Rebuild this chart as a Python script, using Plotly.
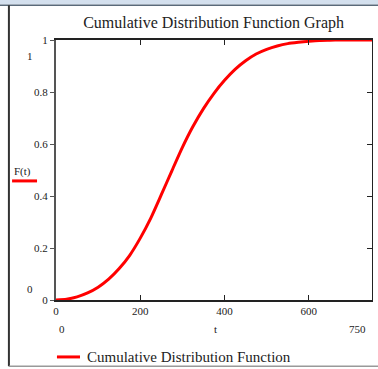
import plotly.graph_objects as go

t_vals = [0, 25, 50, 75, 100, 125, 150, 175, 200, 225, 250, 275, 300, 325, 350,
          375, 400, 425, 450, 475, 500, 525, 550, 575, 600, 625, 650, 675, 700, 725, 750]
F_vals = [0.0, 0.003, 0.012, 0.027, 0.049, 0.080, 0.121, 0.172, 0.238, 0.315, 0.405, 0.497,
          0.587, 0.667, 0.736, 0.795, 0.845, 0.887, 0.92, 0.946, 0.964, 0.977, 0.986,
          0.991, 0.995, 0.998, 0.999, 1.0, 1.0, 1.0, 1.0]

x_ticks = [0, 200, 400, 600]
y_ticks = [0, 0.2, 0.4, 0.6, 0.8, 1]
y_tick_text = ["0", "0.2", "0.4", "0.6", "0.8", "1"]

title_text = "Cumulative Distribution Function Graph"
series_name = "Cumulative Distribution Function"
y_label = "F(t)"
x_label = "t"
x_min_label, x_max_label = "0", "750"
y_min_label, y_max_label = "0", "1"

SERIF = "Liberation Serif"
RED = "#ff0000"

fig = go.Figure()
fig.add_trace(go.Scatter(
    x=t_vals, y=F_vals, mode="lines", name=series_name,
    line=dict(color=RED, width=3, shape="spline", smoothing=0.6),
    showlegend=False,
))
# invisible trace for right-side axis ticks
fig.add_trace(go.Scatter(x=[0], y=[0], yaxis="y2", mode="lines",
                         line=dict(width=0), showlegend=False, hoverinfo="skip"))

fig.update_layout(
    width=378, height=369,
    margin=dict(l=56, r=6, t=40, b=69),
    paper_bgcolor="white", plot_bgcolor="white",
    showlegend=False,
    title=dict(text=title_text, x=0.565, xanchor="center", y=0.94, yanchor="middle",
               font=dict(family=SERIF, size=16, color="#222")),
    xaxis=dict(range=[0, 750], tickvals=x_ticks, ticks="inside", ticklen=5,
               tickcolor="#222", showline=True, linecolor="#222", linewidth=1.5,
               mirror="ticks", showgrid=False, zeroline=False, automargin=False,
               tickfont=dict(family=SERIF, size=11, color="#222")),
    yaxis=dict(range=[0, 1], tickvals=y_ticks, ticktext=y_tick_text, ticks="outside",
               ticklen=4, tickcolor="#555", showline=True, linecolor="#555", linewidth=2,
               showgrid=False, zeroline=False, ticklabelstandoff=0, automargin=False,
               tickfont=dict(family=SERIF, size=11, color="#222")),
    yaxis2=dict(range=[0, 1], tickvals=y_ticks, overlaying="y", side="right",
                ticks="inside", ticklen=5, tickcolor="#222", showline=True,
                linecolor="#222", linewidth=1, showticklabels=False,
                showgrid=False, zeroline=False, automargin=False),
)

annots = [
    dict(text=x_min_label, x=0.02, y=-0.11),
    dict(text=x_label, x=0.505, y=-0.11),
    dict(text=x_max_label, x=0.955, y=-0.11),
    dict(text=y_max_label, x=-0.083, y=0.94),
    dict(text=y_min_label, x=-0.083, y=0.043),
    dict(text=y_label, x=-0.107, y=0.495),
]
for a in annots:
    fig.add_annotation(showarrow=False, xref="paper", yref="paper",
                       font=dict(family=SERIF, size=11, color="#222"),
                       xanchor="center", yanchor="middle", **a)

# legend (drawn manually)
fig.add_shape(type="line", xref="paper", yref="paper", x0=0.003, x1=0.076,
              y0=-0.219, y1=-0.219, line=dict(color=RED, width=3))
fig.add_annotation(text=series_name, showarrow=False, xref="paper", yref="paper",
                   x=0.092, y=-0.219, xanchor="left", yanchor="middle",
                   font=dict(family=SERIF, size=15, color="#222"))

# red line under F(t)
fig.add_shape(type="line", xref="paper", yref="paper", x0=-0.139, x1=-0.06,
              y0=0.458, y1=0.458, line=dict(color=RED, width=3))
# window frame
fig.add_shape(type="rect", xref="paper", yref="paper", x0=-0.2, x1=1.03,
              y0=1.137, y1=1.16, line=dict(width=0), fillcolor="#d4e0ee", layer="below")
fig.add_shape(type="line", xref="paper", yref="paper", x0=-0.2, x1=1.03,
              y0=1.134, y1=1.134, line=dict(color="#5a6a7a", width=1.5))
fig.add_shape(type="line", xref="paper", yref="paper", x0=-0.149, x1=-0.149,
              y0=1.134, y1=-0.255, line=dict(color="#333", width=2))
fig.add_shape(type="line", xref="paper", yref="paper", x0=-0.149, x1=1.03,
              y0=-0.255, y1=-0.255, line=dict(color="#999", width=1.5))

fig.write_html("out.html")
